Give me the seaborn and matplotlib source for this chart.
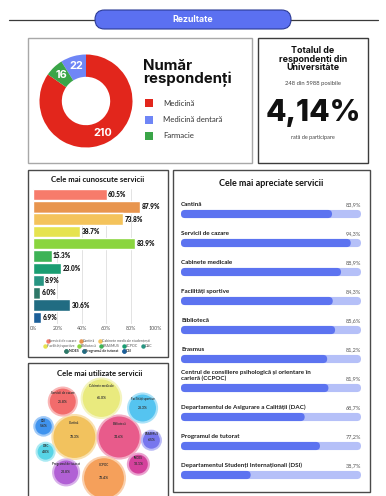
import numpy as np
import pandas as pd
import matplotlib
matplotlib.use("Agg")
import matplotlib.pyplot as plt
from matplotlib.patches import FancyBboxPatch, Rectangle
from matplotlib.lines import Line2D
import seaborn as sns

# ---------------- data ----------------
faculties = ["Medicină", "Medicină dentară", "Farmacie"]
respondents = [210, 22, 16]
faculty_colors = ["#e2261c", "#6f86f6", "#3aa548"]

university_total = 5988

known_services = ["Servicii de cazare", "Cantină", "Cabinete medicale studențești",
                  "Facilități sportive", "Bibliotecă", "ERASMUS", "CCPOC", "DAC",
                  "INDES", "Programul de tutorat", "DSI"]
known_pct = [60.5, 87.9, 73.8, 38.7, 83.9, 15.3, 23.0, 8.9, 6.0, 30.6, 6.9]
known_colors = ["#f77b6b", "#e8954e", "#f4c35b", "#e6e34f", "#8ad53e", "#3db356",
                "#1a9e72", "#279582", "#2e7868", "#216c82", "#1c5f99"]

rated_services = ["Cantină", "Servicii de cazare", "Cabinete medicale", "Facilități sportive",
                  "Bibliotecă", "Erasmus",
                  "Centrul de consiliere psihologică și orientare în\ncarieră (CCPOC)",
                  "Departamentul de Asigurare a Calității (DAC)", "Programul de tutorat",
                  "Departamentul Studenți Internaționali (DSI)"]
rated_pct = [83.9, 94.3, 88.9, 84.3, 85.6, 81.2, 81.9, 68.7, 77.2, 38.7]

used_services = ["Cantină", "Bibliotecă", "Servicii de cazare", "Cabinete medicale",
                 "Facilități sportive", "ERASMUS", "INDES", "CCPOC",
                 "Programul de tutorat", "DAC", "DSI"]
used_pct = [78.3, 74.6, 25.8, 61.0, 28.3, 6.5, 10.1, 70.4, 20.8, 4.8, 5.6]
used_colors = ["#f2c25e", "#e85b8b", "#f26c6c", "#e9ea7e", "#55c4f0", "#7776ee",
               "#d4419c", "#f5a05b", "#b160d5", "#57d4e6", "#3f93ee"]

# ---------------- style ----------------
sns.set_style("white")
plt.rcParams["font.family"] = ["Lato", "DejaVu Sans"]
HEAD = ["Inter", "DejaVu Sans"]

W, H = 386, 496
fig = plt.figure(figsize=(W / 100, H / 100), dpi=100)
fig.patch.set_facecolor("white")


def frame(x0, y0, x1, y1):
    """Pixel box (top-left origin) -> figure fraction rect."""
    return [x0 / W, 1 - y1 / H, (x1 - x0) / W, (y1 - y0) / H]


def fy(y):
    return 1 - y / H


bg = fig.add_axes([0, 0, 1, 1])
bg.set_xlim(0, W)
bg.set_ylim(H, 0)
bg.axis("off")

# header band
bg.plot([9, 378], [19.5, 19.5], color="#3a3a3a", lw=0.9)
bg.add_patch(FancyBboxPatch((95, 10), 196, 19, boxstyle="round,pad=0,rounding_size=9.5",
                            fc="#5b70f1", ec="#2c3b96", lw=0.8, zorder=3))
bg.text(193, 19.8, "Rezultate", ha="center", va="center", color="white",
        fontsize=6.3, fontweight="bold", family=HEAD, zorder=4)

# panel frames
panels = [(28, 38, 252, 163, "#a8a8a8"), (258, 38, 368, 163, "#3c3c3c"),
          (28, 170, 168, 357, "#4a4a4a"), (173, 170, 370, 492, "#4a4a4a"),
          (28, 363, 168, 505, "#4a4a4a")]
for x0, y0, x1, y1, ec in panels:
    bg.add_patch(Rectangle((x0, y0), x1 - x0, y1 - y0, fill=False, ec=ec, lw=1.0))

# ---------------- donut: respondents per faculty ----------------
ax_d = fig.add_axes(frame(39.5, 54.5, 132.5, 147.5))
total = sum(respondents)
wedges, texts = ax_d.pie(
    respondents, colors=faculty_colors,
    startangle=90 - 360 * respondents[0] / total, counterclock=True,
    labels=[str(v) for v in respondents], labeldistance=0.78,
    wedgeprops=dict(width=0.48, linewidth=0),
    textprops=dict(color="white", fontsize=7.8, fontweight="bold"))
for t in texts:
    t.set_ha("center")
    t.set_va("center")
    t.set_family(HEAD)
ax_d.set_xlim(-1, 1)
ax_d.set_ylim(-1, 1)

bg.text(143, 70, "Număr", ha="left", va="baseline", fontsize=10.8, fontweight="bold",
        family=HEAD, color="#111")
bg.text(143, 83.5, "respondenți", ha="left", va="baseline", fontsize=10.8, fontweight="bold",
        family=HEAD, color="#111")
for i, (name, col) in enumerate(zip(faculties, faculty_colors)):
    yc = 103 + i * 16.5
    bg.add_patch(Rectangle((145, yc - 4), 8, 8, fc=col, ec="none"))
    bg.text(163, yc, name, ha="left", va="center", fontsize=5.6, color="#333")

# ---------------- participation rate ----------------
bg.text(313, 59, "Totalul de\nrespondenți din\nUniversitate", ha="center", va="center",
        fontsize=6.4, fontweight="bold", family=HEAD, linespacing=0.95, color="#111")
bg.text(313, 83, f"{total} din {university_total} posibile", ha="center", va="center",
        fontsize=4.2, color="#444")
rate = f"{100 * total / university_total:.2f}%".replace(".", ",")
bg.text(313, 113, rate, ha="center", va="center", fontsize=21.5, fontweight="heavy",
        family=HEAD, color="#111")
bg.text(313, 138, "rată de participare", ha="center", va="center", fontsize=4, color="#444")

# ---------------- best known services ----------------
bg.text(98, 179, "Cele mai cunoscute servicii", ha="center", va="center",
        fontsize=5.6, fontweight="bold", color="#111")
ax_k = fig.add_axes(frame(33, 188.5, 155, 323.5))
ax_k.patch.set_alpha(0)
sns.barplot(x=known_pct, y=known_services, hue=known_services, palette=known_colors,
            legend=False, width=0.94, saturation=1, ax=ax_k, zorder=2)
ax_k.set_xlim(0, 100)
ax_k.set_axisbelow(True)
ax_k.xaxis.grid(True, color="#dedede", lw=0.6)
ax_k.set_xticks(range(0, 101, 20))
ax_k.set_xticklabels([f"{t}%" for t in range(0, 101, 20)])
ax_k.tick_params(axis="x", labelsize=3.8, colors="#555", length=0, pad=2)
ax_k.set_yticks([])
ax_k.set_xlabel("")
ax_k.set_ylabel("")
sns.despine(ax=ax_k, left=True, bottom=True)
for c in ax_k.containers:
    ax_k.bar_label(c, fmt="%.1f%%", padding=1, fontsize=4.7, fontweight="heavy", color="#1a1a1a")

handles = [Line2D([], [], marker="o", ls="", color=c, markersize=2.2) for c in known_colors]
rows = [(0, 3), (3, 8), (8, 11)]
for k, (a, b) in enumerate(rows):
    leg = ax_k.legend(handles[a:b], known_services[a:b], ncol=b - a, loc="center",
                      bbox_to_anchor=(98 / W, fy(341 + 5 * k)), bbox_transform=fig.transFigure,
                      frameon=False, fontsize=2.6, handletextpad=0.1, columnspacing=0.9,
                      borderpad=0, handlelength=0.8, labelcolor="#555")
    ax_k.add_artist(leg)

# ---------------- most appreciated services ----------------
bg.text(271, 183, "Cele mai apreciate servicii", ha="center", va="center",
        fontsize=6.5, fontweight="bold", color="#111")
ax_r = fig.add_axes(frame(181, 199.5, 361, 489.5))
ax_r.patch.set_alpha(0)
track = [100] * len(rated_services)
sns.barplot(x=track, y=rated_services, color="#b5c0f8", width=0.28, saturation=1, ax=ax_r)
sns.barplot(x=rated_pct, y=rated_services, color="#5c73f0", width=0.28, saturation=1, ax=ax_r)
ax_r.set_xlim(0, 100)
ax_r.set_ylim(len(rated_services) - 0.5, -0.5)
ax_r.axis("off")

# pill-shaped bars: rounding sized in pixels via the axes' own transform
inv = ax_r.transData.inverted()
(p0x, p0y), (p1x, p1y) = inv.transform([(0, 0), (1, 1)])
ux, uy = abs(p1x - p0x), abs(p1y - p0y)
m = uy / ux
for p in list(ax_r.patches):
    x, y, w, h = p.get_x(), p.get_y(), p.get_width(), p.get_height()
    fb = FancyBboxPatch((x, y), w, h,
                        boxstyle=f"round,pad=0,rounding_size={abs(h) / m / 2}",
                        mutation_aspect=m, fc=p.get_facecolor(), ec="none",
                        zorder=p.get_zorder())
    p.remove()
    ax_r.add_patch(fb)

for i, (name, v) in enumerate(zip(rated_services, rated_pct)):
    ty = i - 0.14 - 3 * uy
    ax_r.text(0, ty, name, ha="left", va="bottom", fontsize=4.5, fontweight="bold",
              color="#1e1e1e", linespacing=1.1)
    ax_r.text(100, ty, f"{v:.1f}%".replace(".", ","), ha="right", va="bottom",
              fontsize=4, color="#555")

# ---------------- most used services (packed bubbles) ----------------
bg.text(100, 374, "Cele mai utilizate servicii", ha="center", va="center",
        fontsize=5.6, fontweight="bold", color="#111")
ax_b = fig.add_axes(frame(29, 377, 167, 496))

size_range = (168, 1004)
vmin, vmax = min(used_pct), max(used_pct)
areas = size_range[0] + (np.array(used_pct) - vmin) / (vmax - vmin) * (size_range[1] - size_range[0])
radii = np.sqrt(areas) / 2 * (100 / 72)  # marker diameter (pt) -> pixels


def pack(radii, center, start_deg=134.0, gap=1.2):
    """Two largest bubbles side by side, the rest ringed around them clockwise."""
    n = len(radii)
    pos = np.zeros((n, 2))
    order = list(np.argsort(radii)[::-1])
    a, b = order[0], order[1]
    cx, cy = center
    pos[a] = (cx - radii[a] - gap / 2, cy)
    pos[b] = (cx + radii[b] + gap / 2, cy)
    placed = [a, b]
    ring = [i for i in range(n) if i not in (a, b)]
    deg_per_px = 360.0 / sum(2 * radii[i] for i in ring)
    ang = start_deg
    for k, i in enumerate(ring):
        if k > 0:
            ang -= (radii[ring[k - 1]] + radii[i]) * deg_per_px
        u = np.array([np.cos(np.radians(ang)), -np.sin(np.radians(ang))])
        d = 0.0
        while True:
            p = np.array(center) + d * u
            if all(np.hypot(*(p - pos[j])) >= radii[i] + radii[j] + gap for j in placed):
                break
            d += 0.25
        pos[i] = p
        placed.append(i)
    return pos


pos = pack(radii, center=(97, 437))
df = pd.DataFrame(dict(service=used_services, pct=used_pct, x=pos[:, 0], y=pos[:, 1]))
sns.scatterplot(data=df, x="x", y="y", hue="service", palette=used_colors, size="pct",
                sizes=size_range, size_norm=(vmin, vmax), legend=False, linewidth=1.5,
                ax=ax_b, clip_on=False, zorder=2)
coll = ax_b.collections[0]
fcs = coll.get_facecolors()
coll.set_edgecolors([tuple(0.5 * np.array(c[:3]) + 0.5) for c in fcs])
for (_, row), r in zip(df.iterrows(), radii):
    ax_b.text(row.x, row.y - 0.62 * r, row.service, ha="center", va="center",
              fontsize=2.2, fontweight="bold", color="#333", zorder=3)
    ax_b.text(row.x, row.y, f"{row.pct:.1f}%", ha="center", va="center",
              fontsize=2.5, fontweight="bold", color="#333", zorder=3)
ax_b.set_xlim(29, 167)
ax_b.set_ylim(496, 377)
ax_b.axis("off")

fig.savefig("out.png", dpi=100, facecolor="white")
